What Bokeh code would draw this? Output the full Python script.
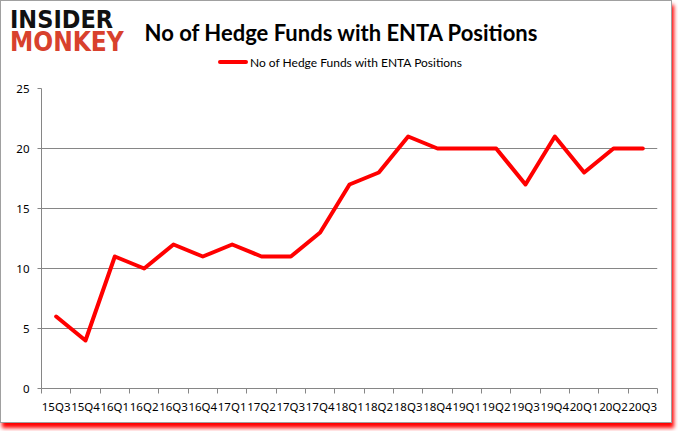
from bokeh.plotting import figure
from bokeh.layouts import column
from bokeh.models import Range1d, FixedTicker, Div
from bokeh.embed import file_html
from bokeh.resources import INLINE

quarters = ["15Q3", "15Q4", "16Q1", "16Q2", "16Q3", "16Q4", "17Q1", "17Q2", "17Q3", "17Q4",
            "18Q1", "18Q2", "18Q3", "18Q4", "19Q1", "19Q2", "19Q3", "19Q4", "20Q1", "20Q2", "20Q3"]
funds = [6, 4, 11, 10, 12, 11, 12, 11, 11, 13, 17, 18, 21, 20, 20, 20, 17, 21, 18, 20, 20]
y_ticks = [0, 5, 10, 15, 20, 25]
title_text = "No of Hedge Funds with ENTA Positions"
series_name = "No of Hedge Funds with ENTA Positions"
logo_text = "INSIDER MONKEY"

RED = "#ff0000"
GRID = "#868686"
W = 670
HDR_H = 80

# ---------- header: logo, title, legend ----------
header_html = f"""
<style>
  .im-logo::first-line {{ color:#111111; font-size:25px; }}
</style>
<div style="position:relative;width:{W}px;height:{HDR_H}px;overflow:hidden;background:#fff;margin:0;padding:0;">
  <div class="im-logo" style="position:absolute;left:9px;top:8px;width:130px;
       font-family:'DejaVu Sans Condensed','DejaVu Sans';font-weight:bold;font-size:26px;line-height:22px;
       color:#d8412d;">{logo_text}</div>
  <div style="position:absolute;left:0px;width:680px;top:21px;text-align:center;font-family:Lato;
       font-weight:bold;font-size:22px;line-height:22px;color:#000;white-space:nowrap;">{title_text}</div>
  <div style="position:absolute;left:217px;top:59px;width:30px;height:4px;background:{RED};
       border-radius:2px;"></div>
  <div style="position:absolute;left:249px;top:56px;font-family:Lato;font-size:12px;line-height:12px;
       color:#000;white-space:nowrap;">{series_name}</div>
</div>
"""
hdr = Div(text=header_html, width=W, height=HDR_H, margin=0)

# ---------- main chart ----------
n = len(quarters)
xs = [i + 0.5 for i in range(n)]

p = figure(width=W, height=421 - HDR_H, output_backend="svg", toolbar_location=None,
           x_range=Range1d(0, n), y_range=Range1d(0, 25),
           min_border_left=40, min_border_right=14, min_border_top=7, min_border_bottom=34,
           margin=0)
p.background_fill_color = "white"
p.border_fill_color = "white"
p.outline_line_color = None

p.line(xs, funds, line_color=RED, line_width=4, line_join="round", line_cap="round")

xa = p.xaxis[0]
xa.ticker = FixedTicker(ticks=xs, minor_ticks=list(range(n + 1)))
xa.major_label_overrides = {x: q for x, q in zip(xs, quarters)}
xa.major_tick_line_color = None
xa.minor_tick_in = 0
xa.minor_tick_out = 5
xa.minor_tick_line_color = GRID
xa.axis_line_color = GRID
xa.major_label_text_font = "Noto Sans"
xa.major_label_text_font_size = "11.5px"
xa.major_label_text_color = "#000000"
xa.major_label_standoff = 4

ya = p.yaxis[0]
ya.ticker = FixedTicker(ticks=y_ticks, minor_ticks=[])
ya.major_tick_in = 0
ya.major_tick_out = 4
ya.major_tick_line_color = GRID
ya.axis_line_color = GRID
ya.major_label_text_font = "Noto Sans"
ya.major_label_text_font_size = "11.5px"
ya.major_label_text_color = "#000000"
ya.major_label_standoff = 8

p.xgrid.grid_line_color = None
p.ygrid.grid_line_color = GRID
p.ygrid.grid_line_width = 1

layout = column(hdr, p, spacing=0)
layout.styles = {"border": "1px solid #a0a0a0", "box-shadow": "2px 5px 4px #ff0000",
                 "background-color": "#ffffff"}

open("out.html", "w").write(file_html(layout, INLINE))
